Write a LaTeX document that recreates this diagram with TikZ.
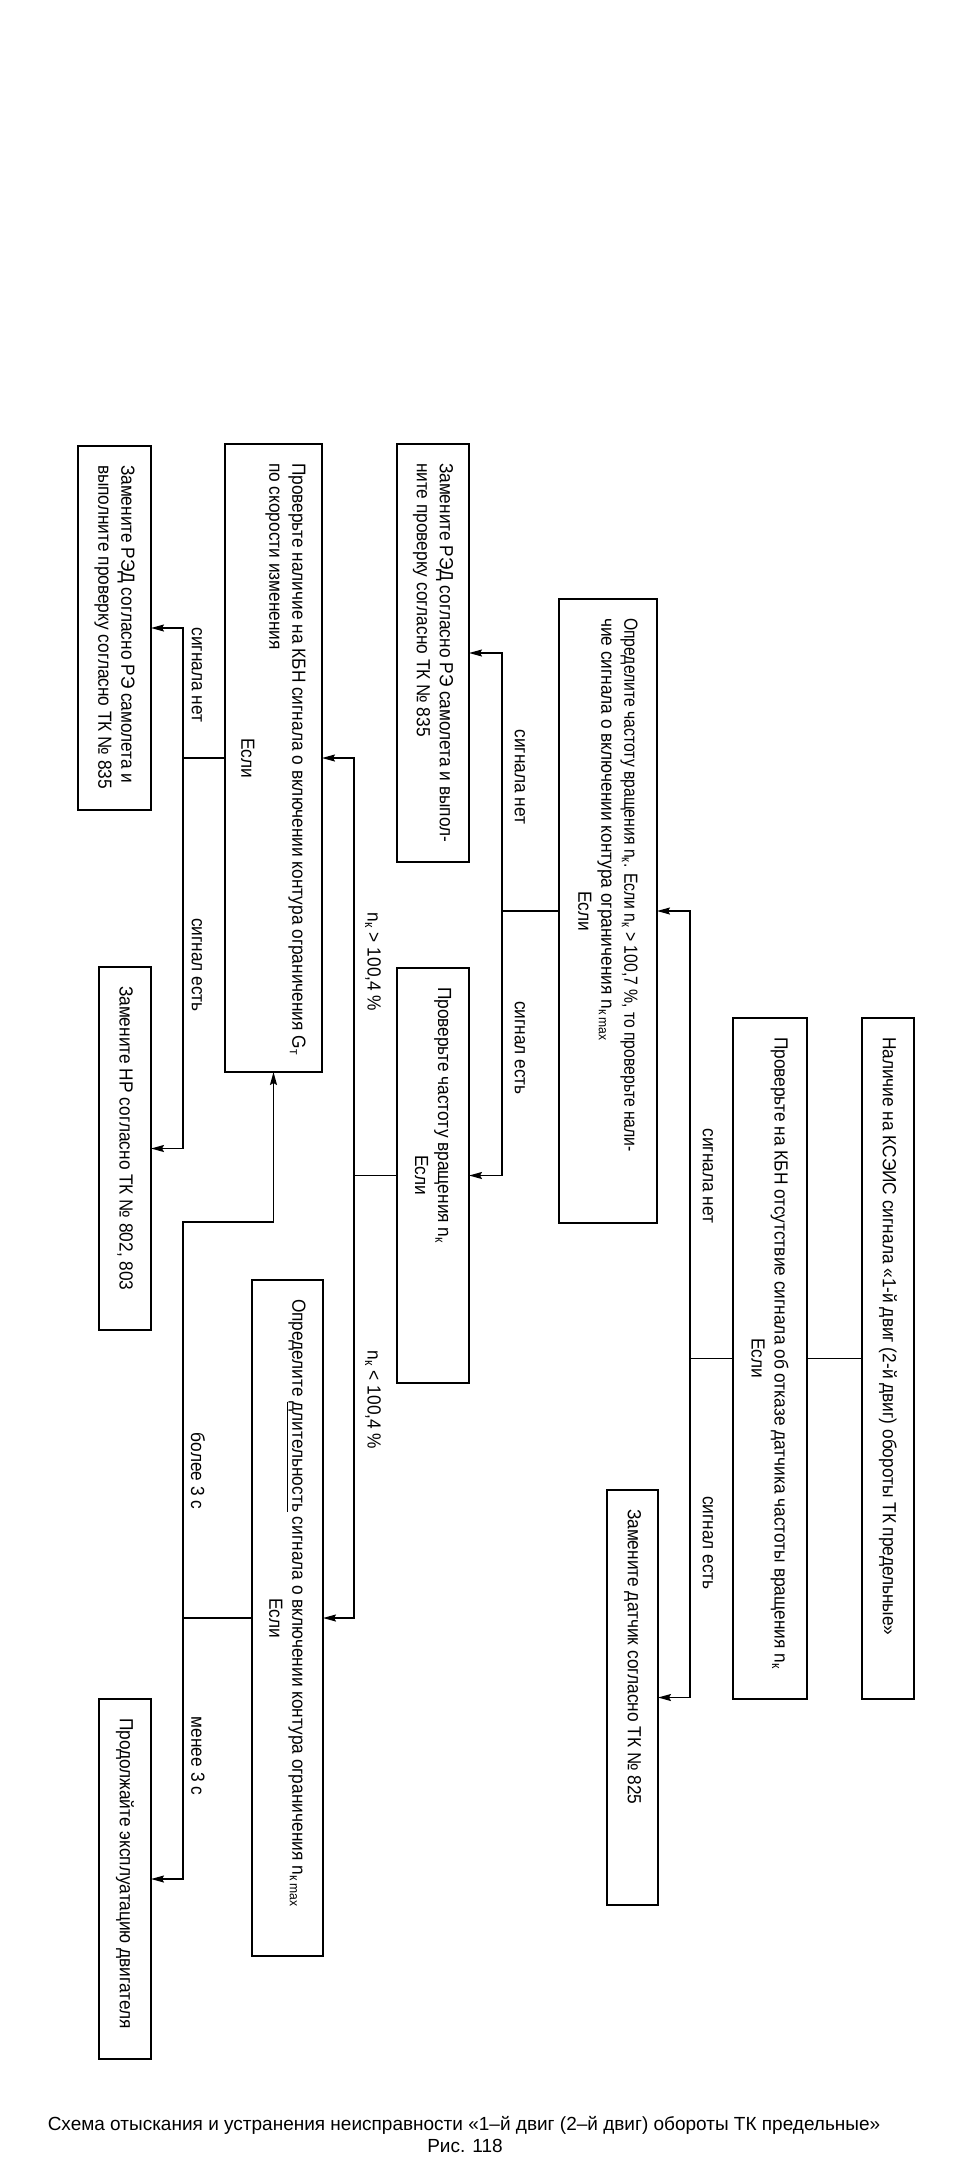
\documentclass[tikz,border=0pt]{standalone}
\usepackage{fontspec}
\setmainfont{Liberation Sans}
\newfontfamily\boxfont{Liberation Sans}[FakeStretch=0.91]
\usepackage{graphicx}
\usetikzlibrary{arrows.meta}
\newcommand{\bxt}[3]{\rotatebox{-90}{\parbox[c][#2][c]{#1}{\boxfont\fontsize{19}{23}\selectfont\parindent=0pt\leftskip=19pt\rightskip=0pt plus 1fil\relax #3\par}}}
\newcommand{\esli}[1][0pt]{\par\vspace{#1}{\leftskip=0pt plus 1fil\rightskip=0pt plus 1fil\parfillskip=0pt\relax Если\par}}
\newcommand{\nk}{n\textsubscript{к}}
\begin{document}
\begin{tikzpicture}[x=1pt,y=-1pt,
  box/.style={draw, line width=2pt, inner sep=0pt, outer sep=0pt},
  ln/.style={draw, line width=1.6pt, line join=miter},
  both/.style={draw, line width=1.6pt, line join=miter,
    arrows={Stealth[length=13pt,width=7pt,inset=2pt]-Stealth[length=13pt,width=7pt,inset=2pt]}},
  lbl/.style={rotate=-90, inner sep=0pt, font=\boxfont\fontsize{19}{23}\selectfont},
  captxt/.style={inner sep=0pt, anchor=base, font=\fontsize{19}{23}\selectfont}]
\useasboundingbox (0,0) rectangle (972,2180);

% boxes
\node[box] (A) at (888,1358.5) {\bxt{681pt}{52pt}{Наличие на КСЭИС сигнала «1-й двиг (2-й двиг) обороты ТК предельные»}};
\node[box] (B) at (770,1358.5) {\bxt{681pt}{74pt}{Проверьте на КБН отсутствие сигнала об отказе датчика частоты вращения \nk\esli}};
\node[box] (C) at (632.5,1697.5) {\bxt{415pt}{51pt}{Замените датчик согласно ТК № 825}};
\node[box] (D) at (608,911) {\bxt{624pt}{98pt}{\scalebox{0.91}[1]{Определите частоту вращения \nk. Если \nk\ > 100,7 \%, то проверьте нали-}\par чие сигнала о включении контура ограничения n\textsubscript{к max}\esli}};
\node[box] (E) at (433,653) {\bxt{418pt}{72pt}{Замените РЭД согласно РЭ самолета и выпол-\par ните проверку согласно ТК № 835}};
\node[box] (F) at (433,1175.5) {\bxt{415pt}{72pt}{Проверьте частоту вращения \nk\esli}};
\node[box] (G) at (273.5,758) {\bxt{628pt}{97pt}{Проверьте наличие на КБН сигнала о включении контура ограничения G\textsubscript{т}\par по скорости изменения\esli[5pt]}};
\node[box] (H) at (287.5,1618) {\bxt{676pt}{71pt}{Определите \underline{длительность} сигнала о включении контура ограничения n\textsubscript{к max}\esli}};
\node[box] (I) at (114.5,628) {\bxt{364pt}{73pt}{Замените РЭД согласно РЭ самолета и\par выполните проверку согласно ТК № 835}};
\node[box] (J) at (125,1148.5) {\bxt{363pt}{52pt}{Замените НР согласно ТК № 802, 803}};
\node[box] (K) at (125,1879) {\bxt{360pt}{52pt}{Продолжайте эксплуатацию двигателя}};

% bus coordinates
\coordinate (bAB) at (690,0);
\coordinate (bDF) at (502,0);
\coordinate (bFH) at (354,0);
\coordinate (bL) at (183,0);
\coordinate (gk) at (183,1222);

% connectors
\draw[ln] (A.west) -- (B.east);
\draw[ln] (B.west) -- (B.west -| bAB);
\draw[both] (D.east) -- (D.east -| bAB) -- (C.east -| bAB) -- (C.east);
\draw[ln] (D.west) -- (D.west -| bDF);
\draw[both] (E.east) -- (E.east -| bDF) -- (F.east -| bDF) -- (F.east);
\draw[ln] (F.west) -- (F.west -| bFH);
\draw[both] (G.east) -- (G.east -| bFH) -- (H.east -| bFH) -- (H.east);
\draw[ln] (G.west) -- (G.west -| bL);
\draw[both] (I.east) -- (I.east -| bL) -- (J.east -| bL) -- (J.east);
\draw[ln] (H.west) -- (H.west -| bL);
\draw[both] (G.south) -- (G.south |- gk) -- (gk) -- (gk |- K.east) -- (K.east);

% labels
\node[lbl] (l1) at (708,1176) {сигнала нет};
\node[lbl] (l2) at (708,1543) {сигнал есть};
\node[lbl] (l3) at (520,777) {сигнала нет};
\node[lbl] (l4) at (520,1048) {сигнал есть};
\node[lbl] (l5) at (373,962) {\nk\ > 100,4 \%};
\node[lbl] (l6) at (373,1400) {\nk\ < 100,4 \%};
\node[lbl] (l7) at (197,675) {сигнала нет};
\node[lbl] (l8) at (197,965) {сигнал есть};
\node[lbl] (l9) at (198,1471) {более 3 с};
\node[lbl] (l10) at (198,1756) {менее 3 с};

% caption
\node[captxt] (cap1) at (464,2130) {Схема отыскания и устранения неисправности «1–й двиг (2–й двиг) обороты ТК предельные»};
\node[captxt] (cap2) at (465,2152) {Рис. 118};
\end{tikzpicture}
\end{document}
